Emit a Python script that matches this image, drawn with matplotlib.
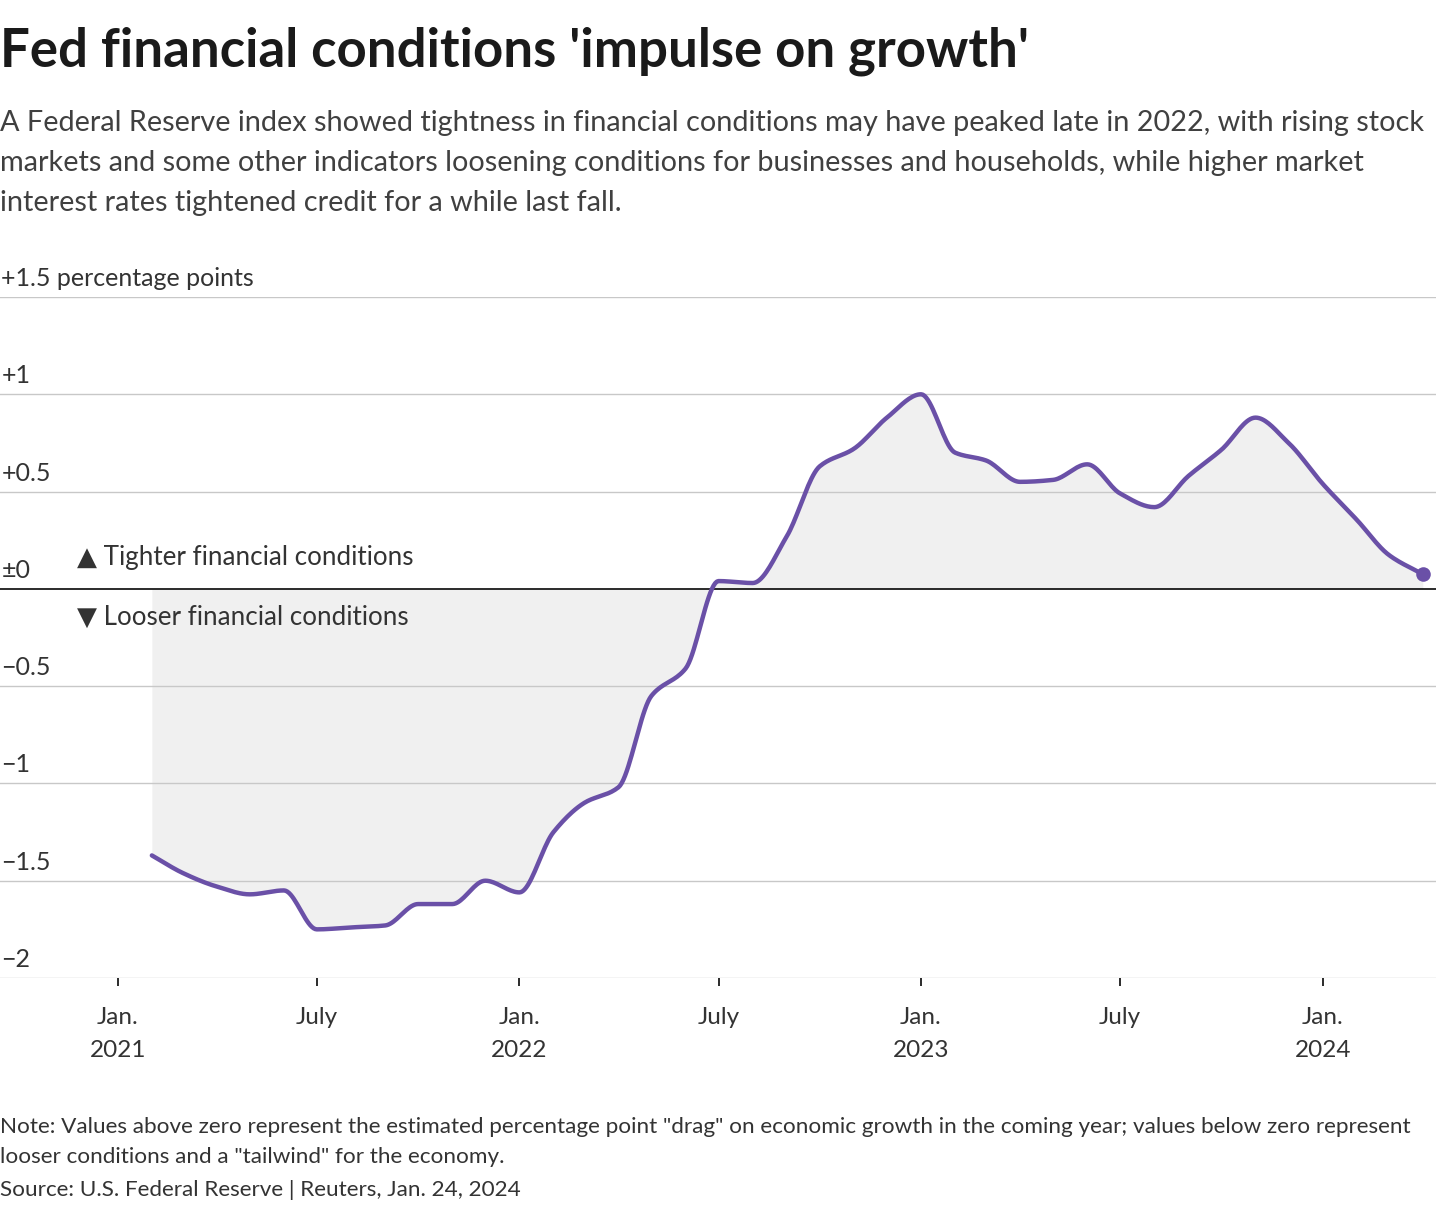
import numpy as np
import pandas as pd
import matplotlib
matplotlib.use("Agg")
import matplotlib.pyplot as plt
import matplotlib.dates as mdates
import matplotlib.transforms as mtransforms

# monthly values of the Fed FCI-G impulse
dates = pd.date_range("2021-02-01", "2024-04-01", freq="MS")
values = [-1.37, -1.46, -1.53, -1.57, -1.55, -1.75, -1.74, -1.73, -1.62, -1.62, -1.50,
          -1.56, -1.25, -1.10, -1.02, -0.55, -0.41, 0.04, 0.03, 0.27, 0.63, 0.72, 0.88,
          1.00, 0.70, 0.66, 0.55, 0.56, 0.64, 0.49, 0.42, 0.58, 0.715, 0.88, 0.75,
          0.54, 0.355, 0.175, 0.075]

y_ticks = [1.5, 1, 0.5, 0, -0.5, -1, -1.5, -2]
y_labels = ["+1.5 percentage points", "+1", "+0.5", "\u00b10", "\u22120.5", "\u22121", "\u22121.5", "\u22122"]
x_ticks = ["2021-01-01", "2021-07-01", "2022-01-01", "2022-07-01", "2023-01-01", "2023-07-01", "2024-01-01"]
x_labels = ["Jan.\n2021", "July", "Jan.\n2022", "July", "Jan.\n2023", "July", "Jan.\n2024"]

LINE = "#6a50a7"
FILL = "#f0f0f0"
GRID = "#c8c8c8"
TXT = "#333333"
H = 1210

plt.rcParams["font.family"] = ["Lato", "DejaVu Sans"]


def monotone_curve(x, y, n=20):
    # same idea as d3.curveMonotoneX, for drawing only
    x = np.asarray(x, float)
    y = np.asarray(y, float)
    h = np.diff(x)
    d = np.diff(y) / h
    m = np.zeros_like(y)
    for i in range(1, len(y) - 1):
        if d[i - 1] * d[i] > 0:
            w1 = 2 * h[i] + h[i - 1]
            w2 = h[i] + 2 * h[i - 1]
            m[i] = (w1 + w2) / (w1 / d[i - 1] + w2 / d[i])
    m[0] = d[0]
    m[-1] = d[-1]
    xs, ys = [], []
    for i in range(len(h)):
        t = np.linspace(0, 1, n, endpoint=False)
        h00 = 2 * t**3 - 3 * t**2 + 1
        h10 = t**3 - 2 * t**2 + t
        h01 = -2 * t**3 + 3 * t**2
        h11 = t**3 - t**2
        xs.append(x[i] + t * h[i])
        ys.append(h00 * y[i] + h10 * h[i] * m[i] + h01 * y[i + 1] + h11 * h[i] * m[i + 1])
    xs.append([x[-1]])
    ys.append([y[-1]])
    return np.concatenate(xs), np.concatenate(ys)


xnum = mdates.date2num(dates)
cx, cy = monotone_curve(xnum, values)

fig = plt.figure(figsize=(14.4, 12.1), dpi=100)
ax = fig.add_axes([0.0, 1 - 978 / H, 1436 / 1440, (978 - 297) / H])

ax.fill_between(cx, cy, 0, color=FILL, lw=0, zorder=1)
for v in y_ticks:
    if v != 0:
        ax.axhline(v, color=GRID, lw=1.0, zorder=2)
ax.axhline(0, color="#1a1a1a", lw=1.3, zorder=3)
ax.plot(cx, cy, color=LINE, lw=3.2, solid_capstyle="round", zorder=4)
ax.scatter([xnum[-1]], [values[-1]], s=110, color=LINE, zorder=5, lw=0)

ax.set_xlim(mdates.date2num(pd.Timestamp("2020-09-16")), mdates.date2num(pd.Timestamp("2024-04-13")))
ax.set_ylim(-2, 1.5)
for s in ax.spines.values():
    s.set_visible(False)
ax.set_yticks([])
ax.set_xticks(mdates.date2num(pd.to_datetime(x_ticks)))
ax.set_xticklabels(x_labels, fontsize=17.5, color=TXT, linespacing=1.72, va="top")
ax.tick_params(axis="x", length=6, width=1.3, color="#1a1a1a", pad=15)

trans = mtransforms.blended_transform_factory(ax.transAxes, ax.transData)
for v, lab in zip(y_ticks, y_labels):
    ax.annotate(lab, (0, v), xycoords=trans, xytext=(1, 5), textcoords="offset points",
                fontsize=18, color=TXT, ha="left", va="bottom")

tx = mdates.date2num(pd.Timestamp("2020-11-25"))
ax.text(tx, 0.16, "\u25b2 Tighter financial conditions", fontsize=18.7, color=TXT, va="center", ha="left", zorder=6)
ax.text(tx, -0.145, "\u25bc Looser financial conditions", fontsize=18.7, color=TXT, va="center", ha="left", zorder=6)

fig.text(0.0, 1 - 66 / H, "Fed financial conditions 'impulse on growth'", fontsize=38,
         fontweight="bold", color="#1a1a1a", va="baseline", ha="left")
subtitle = ["A Federal Reserve index showed tightness in financial conditions may have peaked late in 2022, with rising stock",
            "markets and some other indicators loosening conditions for businesses and households, while higher market",
            "interest rates tightened credit for a while last fall."]
for i, line in enumerate(subtitle):
    fig.text(0.0, 1 - (131 + 40 * i) / H, line, fontsize=20.8, color="#404040", va="baseline", ha="left")

note = ["Note: Values above zero represent the estimated percentage point \"drag\" on economic growth in the coming year; values below zero represent",
        "looser conditions and a \"tailwind\" for the economy.",
        "Source: U.S. Federal Reserve | Reuters, Jan. 24, 2024"]
for line, yb in zip(note, [1133, 1163, 1196]):
    fig.text(0.0, 1 - yb / H, line, fontsize=16.2, color=TXT, va="baseline", ha="left")

fig.savefig("out.png", dpi=100, facecolor="white")
